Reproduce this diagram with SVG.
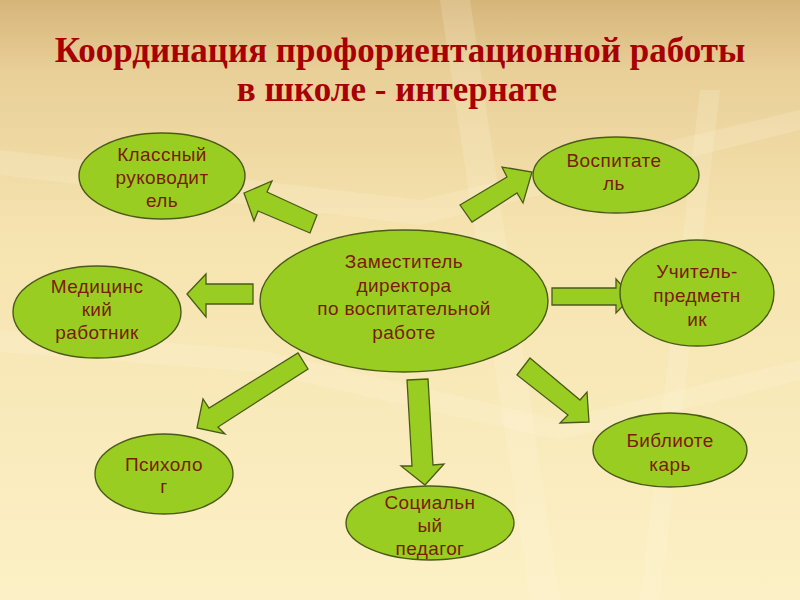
<svg xmlns="http://www.w3.org/2000/svg" width="800" height="600" viewBox="0 0 800 600">
<defs>
<linearGradient id="bg" x1="0" y1="0" x2="0" y2="1">
<stop offset="0" stop-color="#d6b57a"/>
<stop offset="0.12" stop-color="#e9cf98"/>
<stop offset="0.4" stop-color="#f6e4b0"/>
<stop offset="1" stop-color="#fcf0c6"/>
</linearGradient>
<style>
.title{font-family:"Liberation Serif","Times New Roman",serif;font-weight:bold;font-size:35px;fill:#a80000;text-anchor:middle}
.node ellipse{fill:#9acd22;stroke:#4b5a18;stroke-width:1.4}
.node text{font-family:"Liberation Sans",Arial,sans-serif;font-size:19px;letter-spacing:0.4px;fill:#7a1c00;text-anchor:middle}
#connectors polygon{fill:#9acd22;stroke:#4b5a18;stroke-width:1.3;stroke-linejoin:miter}
.streak{fill:#fffbe6;opacity:0.18}
</style>
</defs>
<rect width="800" height="600" fill="url(#bg)"/>
<g id="decor">
<polygon class="streak" points="0,150 420,200 800,110 800,130 420,225 0,175"/>
<polygon class="streak" points="0,330 260,350 560,420 800,360 800,380 560,440 260,372 0,352"/>
<polygon class="streak" points="440,0 470,0 560,600 530,600"/>
<polygon class="streak" points="700,90 720,90 660,600 640,600"/>
</g>
<text class="title" x="400" y="62">Координация профориентационной работы</text>
<text class="title" x="397" y="101">в школе - интернате</text>
<g id="connectors">
<polygon points="244,193 272,181 267,192 317,215 310,233 258,211 254,221"/>
<polygon points="460,205 507,177 502,167 532,172 523,203 517,193 472,222"/>
<polygon points="187,294 206,274 206,284 253,284 253,304 206,304 206,317"/>
<polygon points="552,288 616,288 616,279 632,297 616,313 616,305 552,305"/>
<polygon points="197,428 203,399 209,408 298,353 308,369 218,427 225,434"/>
<polygon points="407,380 428,379 433,465 444,464 425,485 401,466 412,466"/>
<polygon points="530,358 580,400 587,392 589,422 560,423 568,415 517,375"/>
</g>
<g id="node-center" class="node">
<ellipse cx="404" cy="301" rx="144" ry="71"/>
<text x="404" y="268">Заместитель</text>
<text x="404" y="292">директора</text>
<text x="404" y="315">по воспитательной</text>
<text x="404" y="339">работе</text>
</g>
<g id="node-klass" class="node">
<ellipse cx="162" cy="176" rx="83" ry="43"/>
<text x="162" y="161">Классный</text>
<text x="162" y="184">руководит</text>
<text x="162" y="207">ель</text>
</g>
<g id="node-vospit" class="node">
<ellipse cx="616" cy="175" rx="83" ry="38"/>
<text x="614" y="167">Воспитате</text>
<text x="614" y="190">ль</text>
</g>
<g id="node-med" class="node">
<ellipse cx="97" cy="312" rx="84" ry="46"/>
<text x="97" y="293">Медицинс</text>
<text x="97" y="316">кий</text>
<text x="97" y="339">работник</text>
</g>
<g id="node-uchitel" class="node">
<ellipse cx="697" cy="293" rx="77" ry="53"/>
<text x="697" y="278">Учитель-</text>
<text x="697" y="302">предметн</text>
<text x="697" y="326">ик</text>
</g>
<g id="node-psych" class="node">
<ellipse cx="164" cy="474" rx="69" ry="40"/>
<text x="164" y="471">Психоло</text>
<text x="164" y="493">г</text>
</g>
<g id="node-social" class="node">
<ellipse cx="430" cy="523" rx="84" ry="37"/>
<text x="430" y="509">Социальн</text>
<text x="430" y="532">ый</text>
<text x="430" y="555">педагог</text>
</g>
<g id="node-biblio" class="node">
<ellipse cx="670" cy="450" rx="77" ry="37"/>
<text x="670" y="447">Библиоте</text>
<text x="670" y="471">карь</text>
</g>
</svg>
